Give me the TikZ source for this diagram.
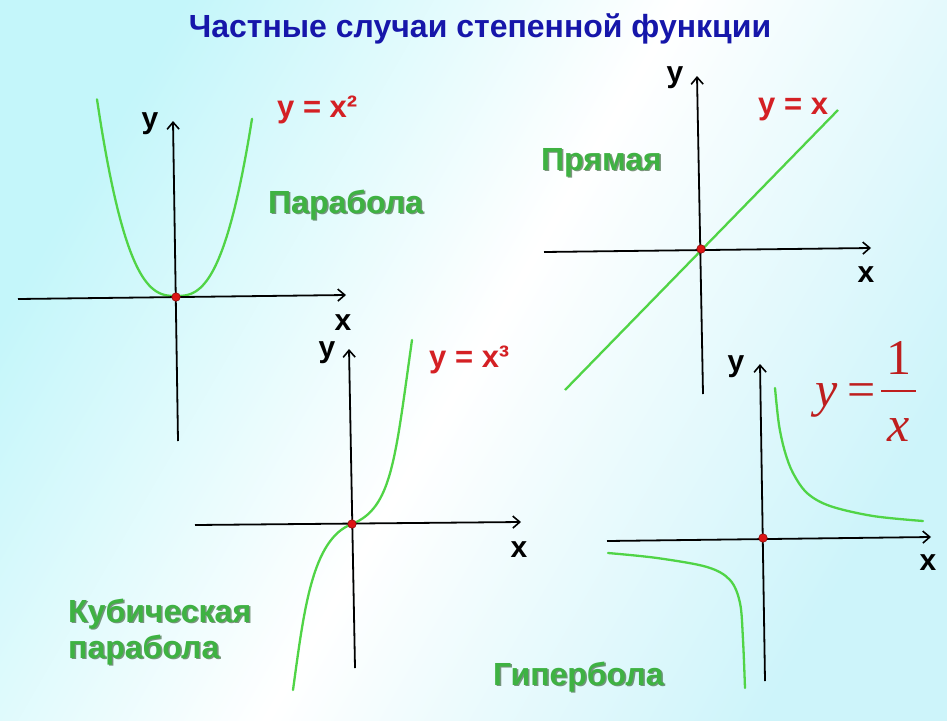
\documentclass[tikz,border=0pt]{standalone}
\usepackage{fontspec}
\setmainfont{Liberation Sans}
\newfontfamily\tnr{Liberation Serif}
\usetikzlibrary{arrows.meta}
\definecolor{bgA}{RGB}{196,246,250}
\definecolor{bgB}{RGB}{205,244,250}
\definecolor{titleblue}{RGB}{22,22,170}
\definecolor{labred}{RGB}{212,32,36}
\definecolor{frmred}{RGB}{190,30,30}
\definecolor{labgreen}{RGB}{62,178,66}
\definecolor{shadowgreen}{RGB}{40,80,40}
\definecolor{curvegreen}{RGB}{80,212,70}
\definecolor{dotred}{RGB}{220,20,20}
\begin{document}
\begin{tikzpicture}[x=1pt,y=-1pt,
  axis/.style={line width=1.8pt,-{Straight Barb[length=7pt,width=12pt,line width=1.6pt]}},
  curve/.style={line width=2.3pt,draw=curvegreen,line cap=round},
  dotnode/.style={circle,fill=dotred,draw=dotred!65!black,line width=0.6pt,inner sep=0pt,minimum size=8.5pt},
  axlab/.style={font=\fontsize{30}{36}\selectfont\bfseries,anchor=base,inner sep=0pt,text=black},
  redlab/.style={font=\fontsize{31}{36}\selectfont\bfseries,anchor=base west,inner sep=0pt,text=labred},
  greenlab/.style={font=\fontsize{32}{36}\selectfont\bfseries,anchor=base west,inner sep=0pt,text=labgreen},
  greenshadow/.style={greenlab,text=shadowgreen,opacity=0.6},
  frm/.style={inner sep=0pt,anchor=base,text=frmred}]
\useasboundingbox (0,0) rectangle (947,720);
\shade[left color=bgA,right color=bgB,middle color=white,shading angle=60] (0,0) rectangle (947,720);

% title
\node[font=\fontsize{32}{38}\selectfont\bfseries,text=titleblue,anchor=base,inner sep=0pt] (title) at (480,37) {Частные случаи степенной функции};

% ---------- parabola ----------
\coordinate (p1xl) at (18,299);
\coordinate (p1xr) at (346,295);
\coordinate (p1yb) at (178,441);
\coordinate (p1yt) at (173,121);
\draw[curve] plot[domain=-7.9:7.6,samples=61,smooth] ({176+10*\x},{296-0.742*pow(abs(\x)+0.0001,2.7)});
\draw[axis] (p1xl) -- (p1xr);
\draw[axis] (p1yb) -- (p1yt);
\node[dotnode] (p1o) at (176,297) {};
\node[axlab] (p1y) at (150,128) {y};
\node[axlab] (p1x) at (343,330) {x};
\node[redlab] (p1f) at (277,117) {y = x²};
\node[greenshadow] (p1nS) at (269.5,214.5) {Парабола};
\node[greenlab] (p1n) at (268,213) {Парабола};

% ---------- line ----------
\coordinate (p2xl) at (544,252);
\coordinate (p2xr) at (871,248);
\coordinate (p2yb) at (703,394);
\coordinate (p2yt) at (697,76);
\coordinate (p2a) at (565,390);
\coordinate (p2b) at (838,110);
\draw[curve,line cap=butt] (p2a) -- (p2b);
\draw[axis] (p2xl) -- (p2xr);
\draw[axis] (p2yb) -- (p2yt);
\node[dotnode] (p2o) at (701,249) {};
\node[axlab] (p2y) at (675,82) {y};
\node[axlab] (p2x) at (866,282) {x};
\node[redlab] (p2f) at (758,114) {y = x};
\node[greenshadow] (p2nS) at (542.5,171.5) {Прямая};
\node[greenlab] (p2n) at (541,170) {Прямая};

% ---------- cubic ----------
\coordinate (p3xl) at (195,525);
\coordinate (p3xr) at (521,522);
\coordinate (p3yb) at (355,668);
\coordinate (p3yt) at (349,349);
\coordinate (c3bot) at (293,690);
\coordinate (c3o) at (352,524);
\coordinate (c3top) at (412,340);
\draw[curve] (c3bot) .. controls (304,610) and (312,539) .. (c3o) .. controls (392,508) and (395,460) .. (c3top);
\draw[axis] (p3xl) -- (p3xr);
\draw[axis] (p3yb) -- (p3yt);
\node[dotnode] (p3o) at (c3o) {};
\node[axlab] (p3y) at (327,357) {y};
\node[axlab] (p3x) at (519,557) {x};
\node[redlab] (p3f) at (429,367) {y = x³};
\node[greenshadow] (p3nS) at (69.5,623.5) {Кубическая};
\node[greenlab] (p3n) at (68,622) {Кубическая};
\node[greenshadow] (p3mS) at (69.5,659.5) {парабола};
\node[greenlab] (p3m) at (68,658) {парабола};

% ---------- hyperbola ----------
\coordinate (p4xl) at (607,541);
\coordinate (p4xr) at (931,537);
\coordinate (p4yb) at (765,681);
\coordinate (p4yt) at (760,364);
\draw[curve] plot[smooth,tension=0.55] coordinates {(775,388) (779,425) (785,452) (793,473) (807,493) (830,506) (873,516) (923,521)};
\draw[curve] plot[smooth,tension=0.55] coordinates {(608,553) (657,558) (707,567) (730,580) (740,603) (743,640) (745,688)};
\draw[axis] (p4xl) -- (p4xr);
\draw[axis] (p4yb) -- (p4yt);
\node[dotnode] (p4o) at (763,538) {};
\node[axlab] (p4y) at (736,371) {y};
\node[axlab] (p4x) at (928,570) {x};
\node[greenshadow] (p4nS) at (494.5,686.5) {Гипербола};
\node[greenlab] (p4n) at (493,685) {Гипербола};

% formula y = 1/x
\node[frm,font=\tnr\itshape\fontsize{50}{56}\selectfont] (fy) at (827,406) {y};
\node[frm,font=\tnr\fontsize{50}{56}\selectfont] (feq) at (862,406) {=};
\coordinate (fbl) at (881,391);
\coordinate (fbr) at (916,391);
\draw[frmred,line width=2.4pt] (fbl) -- (fbr);
\node[frm,font=\tnr\fontsize{50}{56}\selectfont] (fone) at (899,374) {1};
\node[frm,font=\tnr\itshape\fontsize{50}{56}\selectfont] (fx) at (899,441) {x};
\end{tikzpicture}
\end{document}
